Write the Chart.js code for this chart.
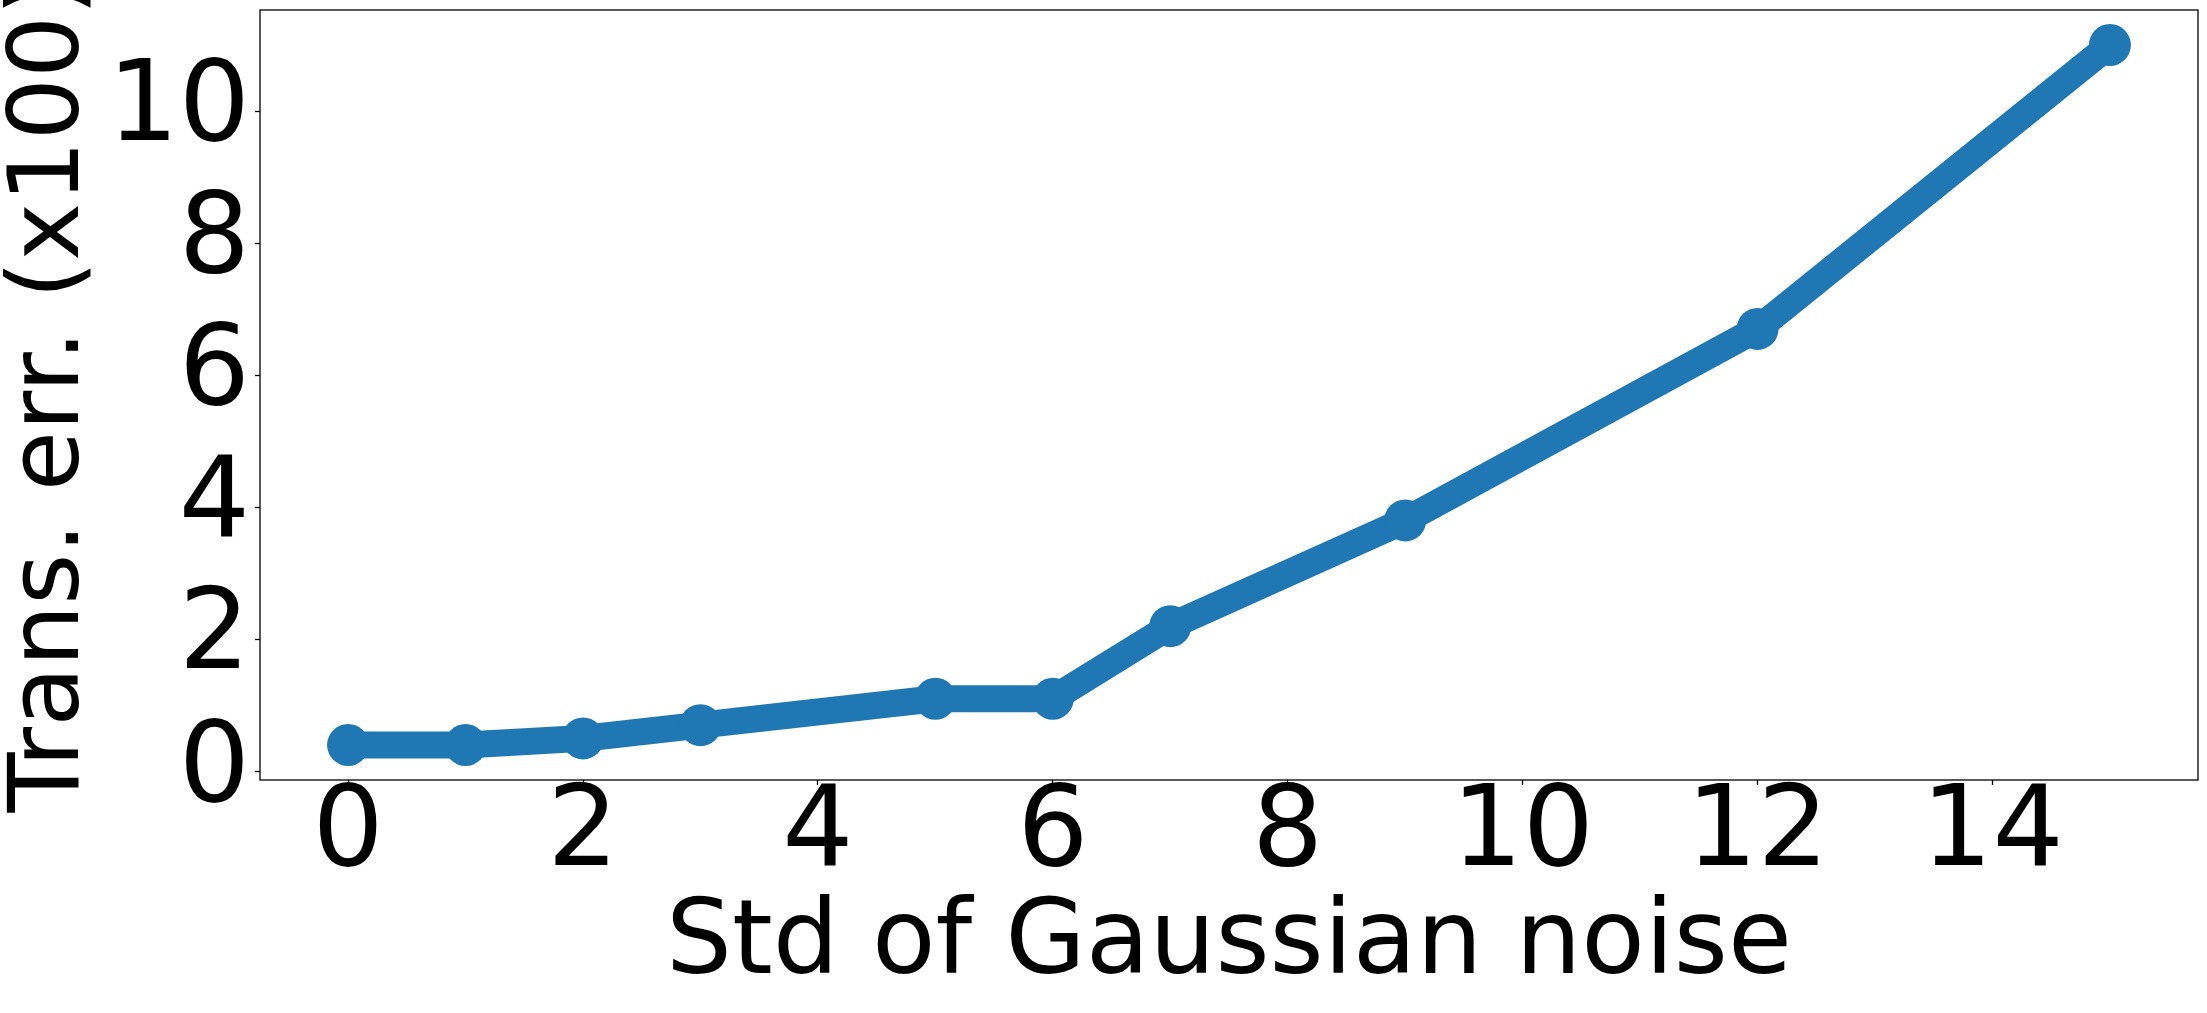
<!DOCTYPE html>
<html><head><meta charset="utf-8">
<script src="https://cdn.jsdelivr.net/npm/chart.js@4/dist/chart.umd.min.js"></script>
<style>html,body{margin:0;padding:0;background:#fff}canvas{display:block}</style>
</head><body>
<canvas id="c" width="2207" height="1013"></canvas>
<script>
const noiseStd = [0, 1, 2, 3, 5, 6, 7, 9, 12, 15];
const transErr = [0.4, 0.4, 0.5, 0.7, 1.1, 1.1, 2.2, 3.8, 6.7, 11.0];
const xTicks = [0, 2, 4, 6, 8, 10, 12, 14];
const yTicks = [0, 2, 4, 6, 8, 10];
const xLabel = 'Std of Gaussian noise';
const yLabel = 'Trans. err. (x100)';

function padRange(vals) {
  const lo = Math.min(...vals), hi = Math.max(...vals), m = (hi - lo) * 0.05;
  return [lo - m, hi + m];
}
const [xMin, xMax] = padRange(noiseStd);
const [yMin, yMax] = padRange(transErr);

const FONT = 'DejaVu Sans';
const frame = {
  id: 'frame',
  afterDraw(chart) {
    const { ctx, chartArea: a } = chart;
    ctx.save();
    ctx.strokeStyle = '#000';
    ctx.lineWidth = 1.3;
    ctx.strokeRect(a.left, a.top, a.right - a.left, a.bottom - a.top);
    ctx.restore();
  }
};

new Chart(document.getElementById('c'), {
  type: 'line',
  data: {
    datasets: [{
      data: noiseStd.map((x, i) => ({ x: x, y: transErr[i] })),
      borderColor: '#1f77b4',
      backgroundColor: '#1f77b4',
      pointBackgroundColor: '#1f77b4',
      borderWidth: 27,
      pointRadius: 21,
      pointBorderWidth: 0,
      pointHoverRadius: 21,
      borderJoinStyle: 'round',
      tension: 0,
      fill: false
    }]
  },
  options: {
    responsive: false,
    animation: false,
    devicePixelRatio: 1,
    layout: { autoPadding: false, padding: { top: 10, right: 9, left: 0, bottom: 0 } },
    plugins: { legend: { display: false }, tooltip: { enabled: false } },
    scales: {
      x: {
        type: 'linear', min: xMin, max: xMax,
        afterBuildTicks: s => { s.ticks = xTicks.map(v => ({ value: v })); },
        afterFit: s => { s.height = 233; s.paddingLeft = 0; s.paddingRight = 0; },
        grid: { drawOnChartArea: false, drawTicks: true, tickLength: 5, color: '#000', tickColor: '#000', tickWidth: 1.3 },
        border: { display: false },
        ticks: { font: { family: FONT, size: 112, lineHeight: 0.9 }, color: '#000', padding: 1, maxRotation: 0, autoSkip: false },
        title: { display: true, text: xLabel, font: { family: FONT, size: 104, lineHeight: 1.2 }, color: '#000', padding: { top: 0, bottom: 5 } }
      },
      y: {
        type: 'linear', min: yMin, max: yMax,
        afterBuildTicks: s => { s.ticks = yTicks.map(v => ({ value: v })); },
        afterFit: s => { s.width = 260; s.paddingTop = 0; s.paddingBottom = 0; },
        grid: { drawOnChartArea: false, drawTicks: true, tickLength: 5, color: '#000', tickColor: '#000', tickWidth: 1.3 },
        border: { display: false },
        ticks: { font: { family: FONT, size: 112, lineHeight: 0.2 }, color: '#000', padding: 5, autoSkip: false },
        title: { display: true, text: yLabel, font: { family: FONT, size: 98, lineHeight: 0.9 }, color: '#000', padding: { top: 8, bottom: 0 } }
      }
    }
  },
  plugins: [frame]
});
</script>
</body></html>
